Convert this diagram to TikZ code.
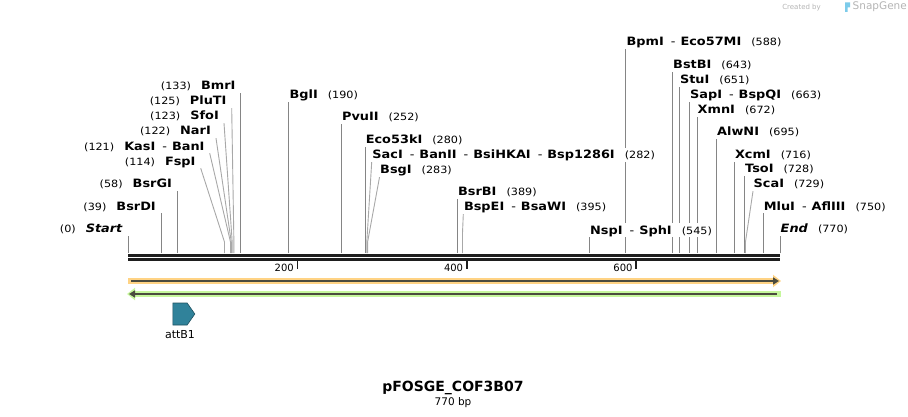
\documentclass[tikz,border=0pt]{standalone}
\usepackage{fontspec}
\setmainfont{DejaVu Sans}
\newfontfamily\sitefont{DejaVu Sans}[FakeStretch=1.12]
\definecolor{site gray}{HTML}{858585}
\definecolor{fan gray}{HTML}{a8a8a8}
\definecolor{backbone black}{HTML}{1e1e1e}
\definecolor{fwd orange}{HTML}{FFD384}
\definecolor{rev green}{HTML}{C6F79C}
\definecolor{strand dark}{HTML}{4b4b3e}
\definecolor{attB teal}{HTML}{30829A}
\definecolor{attB edge}{HTML}{1E4F5E}
\definecolor{logo gray}{HTML}{b4b4b4}
\definecolor{logo blue}{HTML}{7ccbea}
\usepackage{tikz}
\usetikzlibrary{positioning,arrows.meta,backgrounds,shapes.symbols}
\tikzstyle{site label} = [font=\sitefont\fontsize{11.5}{13}\selectfont, fill=white, inner ysep=3pt, text depth=0pt, text height=8pt]
\tikzstyle{label r} = [site label, anchor=base west, inner xsep=0.5pt]
\tikzstyle{label l} = [site label, anchor=base east, inner xsep=5pt]
\tikzstyle{site line} = [site gray, line width=0.9pt]
\tikzstyle{fan line} = [fan gray, line width=0.9pt]
\tikzstyle{backbone} = [backbone black, line width=2.5pt]
\tikzstyle{tick} = [backbone black, line width=1.6pt]
\tikzstyle{tick label} = [font=\fontsize{10}{12}\selectfont, anchor=base east, inner sep=0pt]
\tikzstyle{feature} = [signal, signal to=east, signal pointer angle=110, draw=attB edge, fill=attB teal, line width=0.6pt, minimum width=22pt, minimum height=22pt, inner sep=0pt]
\newcommand{\enz}[1]{\textbf{#1}}
\newcommand{\bpos}[1]{{\fontsize{10}{12}\selectfont(#1)}}
\newcommand{\numgap}{\hspace{10pt}}
\newcommand{\enzsep}{\hspace{7pt}-\hspace{5pt}}

\begin{document}
\begin{tikzpicture}[x=1pt,y=-1pt]
        \useasboundingbox (0,0) rectangle (908,417);
        % backbone and ticks
        \draw[backbone] (128,255.3) -- (780,255.3);
        \draw[backbone] (128,259.3) -- (780,259.3);
        \draw[tick] (297.4,261) -- (297.4,269);
        \draw[tick] (466.7,261) -- (466.7,269);
        \draw[tick] (636.1,261) -- (636.1,269);
        \node[tick label] (t200) at (294,271) {200};
        \node[tick label] (t400) at (463.3,271) {400};
        \node[tick label] (t600) at (632.7,271) {600};

        % cut sites on the backbone
        \coordinate (s0) at (128,253);
        \coordinate (s39) at (161.0,253);
        \coordinate (s58) at (177.1,253);
        \coordinate (s114) at (224.5,253);
        \coordinate (s121) at (230.5,253);
        \coordinate (s122) at (231.3,253);
        \coordinate (s123) at (232.2,253);
        \coordinate (s125) at (233.9,253);
        \coordinate (s133) at (240.6,253);
        \coordinate (s190) at (288.9,253);
        \coordinate (s252) at (341.4,253);
        \coordinate (s280) at (365.1,253);
        \coordinate (s282) at (366.8,253);
        \coordinate (s283) at (367.6,253);
        \coordinate (s389) at (457.4,253);
        \coordinate (s395) at (462.5,253);
        \coordinate (s545) at (589.5,253);
        \coordinate (s588) at (625.9,253);
        \coordinate (s643) at (672.5,253);
        \coordinate (s651) at (679.3,253);
        \coordinate (s663) at (689.4,253);
        \coordinate (s672) at (697.0,253);
        \coordinate (s695) at (716.5,253);
        \coordinate (s716) at (734.3,253);
        \coordinate (s728) at (744.5,253);
        \coordinate (s729) at (745.3,253);
        \coordinate (s750) at (763.1,253);
        \coordinate (s770) at (780.0,253);

        % left labels
        \node[label l] (start) at (128,233) {\bpos{0}\numgap\textbf{\textit{Start}}};
        \node[label l] (bsrdi) at (161.0,210) {\bpos{39}\numgap\enz{BsrDI}};
        \node[label l] (bsrgi) at (177.1,188) {\bpos{58}\numgap\enz{BsrGI}};
        \node[label l] (fspi) at (200.7,165) {\bpos{114}\numgap\enz{FspI}};
        \node[label l] (kasi-bani) at (209.7,150) {\bpos{121}\numgap\enz{KasI}\enzsep\enz{BanI}};
        \node[label l] (nari) at (216,135) {\bpos{122}\numgap\enz{NarI}};
        \node[label l] (sfoi) at (224,120) {\bpos{123}\numgap\enz{SfoI}};
        \node[label l] (pluti) at (231.7,105) {\bpos{125}\numgap\enz{PluTI}};
        \node[label l] (bmri) at (240.6,90) {\bpos{133}\numgap\enz{BmrI}};

        % right labels
        \node[label r] (bgli) at (288.9,99) {\enz{BglI}\numgap\bpos{190}};
        \node[label r] (pvuii) at (341.4,121) {\enz{PvuII}\numgap\bpos{252}};
        \node[label r] (eco53ki) at (365.1,144) {\enz{Eco53kI}\numgap\bpos{280}};
        \node[label r] (saci) at (371.7,159) {\enz{SacI}\enzsep\enz{BanII}\enzsep\enz{BsiHKAI}\enzsep\enz{Bsp1286I}\numgap\bpos{282}};
        \node[label r] (bsgi) at (379.5,174) {\enz{BsgI}\numgap\bpos{283}};
        \node[label r] (bsrbi) at (457.4,196) {\enz{BsrBI}\numgap\bpos{389}};
        \node[label r] (bspei-bsawi) at (463.3,211) {\enz{BspEI}\enzsep\enz{BsaWI}\numgap\bpos{395}};
        \node[label r] (nspi-sphi) at (589.5,234) {\enz{NspI}\enzsep\enz{SphI}\numgap\bpos{545}};
        \node[label r] (bpmi-eco57mi) at (625.9,46) {\enz{BpmI}\enzsep\enz{Eco57MI}\numgap\bpos{588}};
        \node[label r] (bstbi) at (672.5,69) {\enz{BstBI}\numgap\bpos{643}};
        \node[label r] (stui) at (679.3,84) {\enz{StuI}\numgap\bpos{651}};
        \node[label r] (sapi-bspqi) at (689.4,99) {\enz{SapI}\enzsep\enz{BspQI}\numgap\bpos{663}};
        \node[label r] (xmni) at (697.0,114) {\enz{XmnI}\numgap\bpos{672}};
        \node[label r] (alwni) at (716.5,136) {\enz{AlwNI}\numgap\bpos{695}};
        \node[label r] (xcmi) at (734.3,159) {\enz{XcmI}\numgap\bpos{716}};
        \node[label r] (tsoi) at (744.5,173) {\enz{TsoI}\numgap\bpos{728}};
        \node[label r] (scai) at (753,188) {\enz{ScaI}\numgap\bpos{729}};
        \node[label r] (mlui-afliii) at (763.1,210) {\enz{MluI}\enzsep\enz{AflIII}\numgap\bpos{750}};
        \node[label r] (end) at (780.0,233) {\textbf{\textit{End}}\numgap\bpos{770}};

        \begin{scope}[on background layer]
        \draw[site line] (s0) -- (start.south east);
        \draw[site line] (s39) -- (bsrdi.south east);
        \draw[site line] (s58) -- (bsrgi.south east);
        \draw[fan line] (s114) -- ++(0,-11) -- (fspi.south east);
        \draw[fan line] (s121) -- ++(0,-11) -- (kasi-bani.south east);
        \draw[fan line] (s122) -- ++(0,-11) -- (nari.south east);
        \draw[fan line] (s123) -- ++(0,-11) -- (sfoi.south east);
        \draw[fan line] (s125) -- ++(0,-11) -- (pluti.south east);
        \draw[site line] (s133) -- (bmri.south east);
        \draw[site line] (s190) -- (bgli.south west);
        \draw[site line] (s252) -- (pvuii.south west);
        \draw[site line] (s280) -- (eco53ki.south west);
        \draw[fan line] (s282) -- ++(0,-11) -- (saci.south west);
        \draw[fan line] (s283) -- ++(0,-11) -- (bsgi.south west);
        \draw[site line] (s389) -- (bsrbi.south west);
        \draw[fan line] (s395) -- ++(0,-20) -- (bspei-bsawi.south west);
        \draw[site line] (s545) -- (nspi-sphi.south west);
        \draw[site line] (s588) -- (bpmi-eco57mi.south west);
        \draw[site line] (s643) -- (bstbi.south west);
        \draw[site line] (s651) -- (stui.south west);
        \draw[site line] (s663) -- (sapi-bspqi.south west);
        \draw[site line] (s672) -- (xmni.south west);
        \draw[site line] (s695) -- (alwni.south west);
        \draw[site line] (s716) -- (xcmi.south west);
        \draw[site line] (s728) -- (tsoi.south west);
        \draw[fan line] (s729) -- ++(0,-10) -- (scai.south west);
        \draw[site line] (s750) -- (mlui-afliii.south west);
        \draw[site line] (s770) -- (end.south west);
        \end{scope}

        % reading frames
        \draw[fwd orange, line width=6pt, -{Triangle[length=8pt,width=12pt]}] (128,281) -- (781,281);
        \draw[strand dark, line width=2pt, -{Triangle[length=6pt,width=7pt]}] (131,281) -- (779,281);
        \draw[rev green, line width=6pt, {Triangle[length=8pt,width=12pt]}-] (127,294) -- (781,294);
        \draw[strand dark, line width=2pt, {Triangle[length=6pt,width=7pt]}-] (129,294) -- (777,294);

        % feature
        \node[feature] (attB1) at (180,314) {};
        \node[below=5pt of attB1, font=\fontsize{11}{13}\selectfont, inner sep=0pt] (attB1 label) {attB1};

        % title
        \node[anchor=base, font=\fontsize{14}{16}\selectfont\bfseries, inner sep=0pt] (name) at (453,391) {pFOSGE\_COF3B07};
        \node[anchor=base, font=\fontsize{10.5}{12}\selectfont, inner sep=0pt] (size) at (453,405) {770 bp};

        % logo
        \node[anchor=base east, font=\fontsize{7}{8}\selectfont, text=logo gray, inner sep=0pt] (created) at (821,10) {Created by};
        \fill[logo blue] (845,2.5) rectangle (847.5,12) (845,2.5) rectangle (850,7.5);
        \node[anchor=base west, font=\fontsize{10.5}{11}\selectfont, text=logo gray, inner sep=0pt] (snapgene) at (852.5,10) {SnapGene};
    \end{tikzpicture}
\end{document}
